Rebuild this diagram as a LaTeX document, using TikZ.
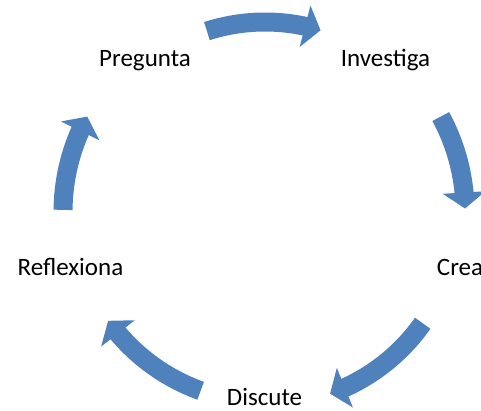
\documentclass[tikz,border=0pt]{standalone}
\usepackage{fontspec}
\setmainfont{Carlito}
\usetikzlibrary{arrows.meta,bending,calc}
\definecolor{cycleblue}{HTML}{4F81BD}
\begin{document}
\begin{tikzpicture}[x=1pt,y=1pt,
  label/.style={font=\fontsize{25}{30}\selectfont, text=black, anchor=base, inner sep=0pt},
  cyclearrow/.style={draw=cycleblue, line width=19pt,
    -{Triangle[width=42pt,length=16pt]}}]
  \useasboundingbox (0,0) rectangle (481,410);
  % centre of the cycle
  \coordinate (C) at (265,198);

  % stage labels
  \node[label] (pregunta)   at (145,343) {Pregunta};
  \node[label] (investiga)  at (385.5,343) {Investiga};
  \node[label] (crea)       at (460,135) {Crea};
  \node[label] (discute)    at (264.5,5) {Discute};
  \node[label] (reflexiona) at (70.5,135) {Reflexiona};

  % curved block arrows between the stages
  \draw[cyclearrow] ($(C)+(107.8:190)$) arc[start angle=107.8, end angle=73, radius=190];
  \draw[cyclearrow] ($(C)+(28.5:200)$)  arc[start angle=28.5,  end angle=1,  radius=200];
  \draw[cyclearrow] ($(C)+(-35.2:193)$) arc[start angle=-35.2, end angle=-70.3, radius=193];
  \draw[cyclearrow] ($(C)+(-109.8:190)$) arc[start angle=-109.8, end angle=-144.4, radius=195];
  \draw[cyclearrow] ($(C)+(179.4:202)$) arc[start angle=179.4, end angle=151.5, radius=200];
\end{tikzpicture}
\end{document}
